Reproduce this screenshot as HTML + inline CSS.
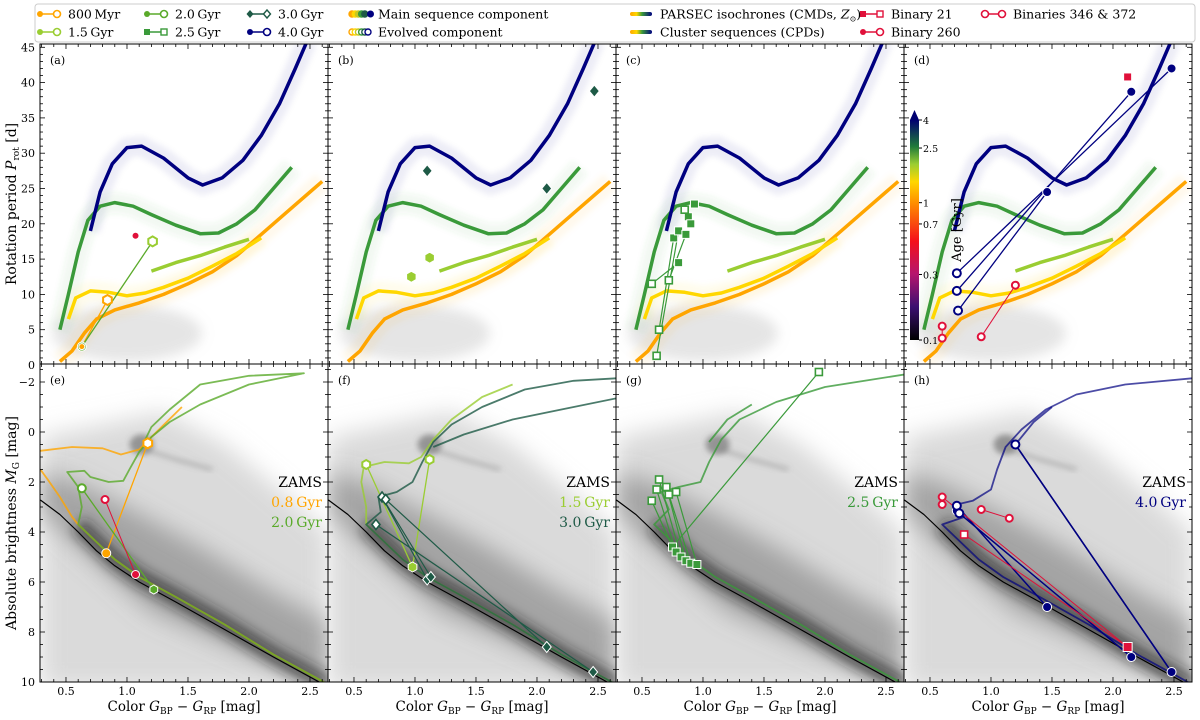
<!DOCTYPE html>
<html><head><meta charset="utf-8">
<style>
body{margin:0;background:#fff;}
svg text{font-family:"DejaVu Serif","Liberation Serif",serif;}
</style></head>
<body>
<svg id="fig" width="1200" height="715" viewBox="0 0 1200 715" xmlns="http://www.w3.org/2000/svg">
<defs>
<filter id="blur6" x="-20%" y="-20%" width="140%" height="140%"><feGaussianBlur stdDeviation="6"/></filter>
<filter id="blur3" x="-20%" y="-20%" width="140%" height="140%"><feGaussianBlur stdDeviation="3"/></filter>
<filter id="blur12" x="-30%" y="-30%" width="160%" height="160%"><feGaussianBlur stdDeviation="12"/></filter>
<linearGradient id="cbar" x1="0" y1="1" x2="0" y2="0">
<stop offset="0" stop-color="#000"/><stop offset="0.15" stop-color="#3b0f70"/><stop offset="0.3" stop-color="#b5156e"/>
<stop offset="0.45" stop-color="#f5101a"/><stop offset="0.62" stop-color="#ff8c00"/><stop offset="0.72" stop-color="#ffd700"/>
<stop offset="0.8" stop-color="#9acd32"/><stop offset="0.88" stop-color="#1f7a3a"/><stop offset="1" stop-color="#000070"/>
</linearGradient>
<linearGradient id="lgrad" x1="0" x2="1"><stop offset="0" stop-color="#ffa500"/><stop offset="0.3" stop-color="#ffd700"/><stop offset="0.55" stop-color="#3a9a3a"/><stop offset="1" stop-color="#000080"/></linearGradient>
<clipPath id="cp0"><rect x="40" y="44" width="288" height="320"/></clipPath>
<clipPath id="cp1"><rect x="328" y="44" width="288" height="320"/></clipPath>
<clipPath id="cp2"><rect x="616" y="44" width="288" height="320"/></clipPath>
<clipPath id="cp3"><rect x="904" y="44" width="288" height="320"/></clipPath>
<clipPath id="cb0"><rect x="40" y="364" width="288" height="318"/></clipPath>
<clipPath id="cb1"><rect x="328" y="364" width="288" height="318"/></clipPath>
<clipPath id="cb2"><rect x="616" y="364" width="288" height="318"/></clipPath>
<clipPath id="cb3"><rect x="904" y="364" width="288" height="318"/></clipPath>
</defs>
</svg>
<script>
// ---------- data ----------
const xTicks=[0.5,1.0,1.5,2.0,2.5];
const pTicks=[0,5,10,15,20,25,30,35,40,45];
const mTicks=[-2,0,2,4,6,8,10];
const seqOrange=[[0.45,0.5],[0.55,2],[0.65,4.5],[0.75,6.5],[0.9,7.8],[1.1,8.8],[1.3,10],[1.5,11.5],[1.7,13.2],[1.9,15.5],[2.1,18.5],[2.3,21.5],[2.5,24.5],[2.6,26]];
const seqYellow=[[0.52,6.5],[0.58,9.5],[0.7,10.5],[0.85,10.3],[1.0,9.8],[1.15,10.2],[1.3,11],[1.5,12.3],[1.7,14],[1.9,15.8],[2.1,18]];
const seqLime=[[1.2,13.3],[1.4,14.5],[1.6,15.5],[1.8,16.7],[2.0,17.8]];
const seqGreen=[[0.45,5],[0.52,10],[0.6,16],[0.68,20.5],[0.78,22.5],[0.9,23],[1.05,22.5],[1.2,21.3],[1.4,19.8],[1.6,18.6],[1.75,18.7],[1.9,20],[2.05,22],[2.2,25],[2.35,28]];
const seqNavy=[[0.7,19],[0.78,24.5],[0.88,28.5],[1.0,30.8],[1.12,31],[1.3,29.3],[1.5,26.5],[1.62,25.5],[1.78,26.5],[1.95,29],[2.1,32.5],[2.25,37],[2.38,42],[2.48,46]];
const msBase=[[2.65,10.1],[2.2,8.9],[1.8,7.7],[1.4,6.6],[1.1,5.8],[0.9,5.1],[0.75,4.4],[0.6,3.7]];
const zams=[[2.65,10.2],[2.2,9.0],[1.8,7.9],[1.4,6.8],[1.1,6.0],[0.9,5.35],[0.75,4.75],[0.6,4.0],[0.45,3.3],[0.29,2.72]];
const isoE1=[[0.55,3.4],[0.45,2.6],[0.35,1.9],[0.29,1.5]];
const isoE1b=[[0.29,0.75],[0.55,0.6],[0.8,0.65],[0.95,0.9],[1.1,0.7],[1.2,0.2],[1.45,-1.0]];
const isoE2=[[0.63,3.0],[0.6,2.2],[0.51,1.6],[0.65,1.55],[0.7,1.8],[0.85,2.0],[0.97,1.95],[1.02,1.5],[1.1,0.8],[1.2,0.2],[1.35,-0.4],[1.6,-1.1],[2.0,-1.9],[2.45,-2.35],[2.0,-2.25],[1.6,-1.9],[1.35,-0.9],[1.2,-0.2],[1.15,0.3]];
const isoF1=[[0.6,3.0],[0.56,2.0],[0.58,1.4],[0.75,1.2],[0.95,1.25],[1.05,1.0],[1.15,0.3],[1.3,-0.5],[1.55,-1.4],[1.8,-1.9]];
const isoF2=[[0.72,3.2],[0.7,2.6],[0.85,2.4],[0.98,2.0],[1.06,1.2],[1.15,0.4],[1.3,-0.3],[1.55,-1.0],[1.9,-1.7],[2.3,-2.05],[2.65,-2.15]];
const isoF2b=[[1.15,0.6],[1.4,0.1],[1.8,-0.5],[2.2,-0.9],[2.65,-1.35]];
const isoG=[[0.72,3.1],[0.66,2.4],[0.8,2.2],[0.98,2.0],[1.05,1.2],[1.15,0.3],[1.3,-0.5],[1.6,-1.2],[2.0,-1.8],[2.65,-2.3]];
const isoGb=[[1.05,0.4],[1.2,-0.5],[1.4,-1.1]];
const isoH=[[0.78,3.4],[0.72,2.9],[0.85,2.75],[1.0,2.3],[1.05,1.5],[1.12,0.6],[1.25,-0.1],[1.45,-0.9],[1.7,-1.5],[2.1,-1.9],[2.65,-2.15]];
const isoHb=[[1.2,0.5],[1.35,-0.4],[1.5,-1.0]];
const aMain=[[0.63,2.6]], aEvo=[[0.84,9.2],[1.21,17.5]], a260=[[1.07,18.3]];
const bLime=[[0.97,12.5],[1.12,15.2]], bTeal=[[1.1,27.5],[2.08,25],[2.47,38.8]];
const cFill=[[0.8,14.5],[0.76,18],[0.8,19],[0.86,18.5],[0.88,21],[0.93,22.8],[0.9,20]];
const cOpen=[[0.58,11.5],[0.64,5],[0.62,1.3],[0.72,12],[0.85,22]];
const dNavyF=[[2.48,42],[2.15,38.7],[1.46,24.5]], dNavyO=[[0.72,13],[0.72,10.5],[0.73,7.7]];
const dRedO=[[0.6,5.5],[0.6,3.8],[0.92,4],[1.2,11.3]], dRedSq=[[2.12,40.8]];
const eOr=[[0.83,4.85],[1.17,0.45]], eGr=[[1.22,6.3],[0.63,2.25]], eRed=[[1.07,5.7],[0.82,2.7]];
const fLimeF=[[0.98,5.4]], fLimeO=[[0.6,1.3],[1.12,1.1]];
const fTealF=[[1.1,5.9],[1.13,5.8],[2.08,8.6],[2.46,9.6]], fTealO=[[0.73,2.6],[0.76,2.7],[0.68,3.7]];
const gSqF=[[0.75,4.6],[0.78,4.8],[0.82,5.0],[0.86,5.15],[0.9,5.25],[0.95,5.3]];
const gSqO=[[0.58,2.75],[0.62,2.3],[0.64,1.9],[0.7,2.2],[0.72,2.5],[0.78,2.4],[1.95,-2.4]];
const hNavyF=[[1.46,7],[2.15,9],[2.48,9.6],[0.72,3.15]], hNavyO=[[0.72,2.95],[0.74,3.25],[1.2,0.5]];
const hRedO=[[0.6,2.6],[0.6,2.9],[0.92,3.1],[1.15,3.45]], hRedSq=[[0.78,4.1],[2.12,8.6]];
const cbTicks=[0.1,0.3,0.7,1,2.5,4];

// ---------- helpers ----------
const NS="http://www.w3.org/2000/svg";
const svg=document.getElementById('fig');
const L=[40,328,616,904], W=288;
const X=(v,c)=>L[c]+(v-0.287)*122;
const YP=p=>365-p*7.06;
const YM=m=>382+(m+2)*25;
function mk(tag,attrs,parent){const e=document.createElementNS(NS,tag);for(const k in attrs)e.setAttribute(k,attrs[k]);(parent||svg).appendChild(e);return e;}
function pathD(arr,c,yf){return arr.map((p,i)=>(i?'L':'M')+X(p[0],c).toFixed(1)+','+yf(p[1]).toFixed(1)).join(' ');}
function line(arr,c,yf,col,w,g,op){const e=mk('path',{d:pathD(arr,c,yf),fill:'none',stroke:col,'stroke-width':w,'stroke-linejoin':'round','stroke-opacity':op||1},g);return e;}
function marker(p,c,yf,shape,col,filled,g,r){
  r=r||4;const x=X(p[0],c),y=yf(p[1]);let e;
  const f=filled?col:'#fff';
  if(shape==='c')e=mk('circle',{cx:x,cy:y,r:r,fill:f,stroke:filled?'#fff':col,'stroke-width':filled?1:2},g);
  else if(shape==='s')e=mk('rect',{x:x-r,y:y-r,width:2*r,height:2*r,fill:f,stroke:filled?'#fff':col,'stroke-width':filled?1:1.6},g);
  else if(shape==='d')e=mk('polygon',{points:`${x},${y-r-1} ${x+r},${y} ${x},${y+r+1} ${x-r},${y}`,fill:f,stroke:filled?'#fff':col,'stroke-width':filled?1:1.6},g);
  else {let pts=[];for(let i=0;i<6;i++){const a=Math.PI/3*i+Math.PI/6;pts.push((x+r*Math.cos(a)).toFixed(1)+','+(y+r*Math.sin(a)).toFixed(1));}
    e=mk('polygon',{points:pts.join(' '),fill:f,stroke:filled?'#fff':col,'stroke-width':filled?1:2},g);}
  return e;
}
const OR='#ffa500',YE='#ffd700',LI='#9acd32',GR='#3a9a3a',TE='#1e5a46',NA='#000080',RD='#e0103a',G2='#5aaa2a';

// ---------- top panels ----------
for(let c=0;c<4;c++){
  const g=mk('g',{'clip-path':`url(#cp${c})`});
  
  
  mk('ellipse',{cx:X(1.0,c),cy:YP(4.5),rx:75,ry:28,fill:'#aaa','fill-opacity':0.3,filter:'url(#blur6)'},g);
  [[seqNavy,NA],[seqGreen,GR],[seqOrange,OR],[seqYellow,YE]].forEach(([s,col])=>line(s,c,YP,col,20,g,0.07).setAttribute('filter','url(#blur3)'));
  line(seqOrange,c,YP,OR,3.5,g);line(seqYellow,c,YP,YE,3.5,g);line(seqLime,c,YP,LI,3.5,g);
  line(seqGreen,c,YP,GR,3.5,g);line(seqNavy,c,YP,NA,3.5,g);
}
{const g=mk('g',{'clip-path':'url(#cp0)'});
 line([aMain[0],aEvo[0]],0,YP,OR,1.3,g);line([aMain[0],aEvo[1]],0,YP,G2,1.3,g);
 marker(aMain[0],0,YP,'c',G2,true,g,4.5);marker(aMain[0],0,YP,'c',OR,true,g,3);
 marker(aEvo[0],0,YP,'h',OR,false,g,5);marker(aEvo[1],0,YP,'h',LI,false,g,5);
 marker(a260[0],0,YP,'c',RD,true,g,3.5);}
{const g=mk('g',{'clip-path':'url(#cp1)'});
 bLime.forEach(p=>marker(p,1,YP,'h',LI,true,g,5.5));bTeal.forEach(p=>marker(p,1,YP,'d',TE,true,g,5));}
{const g=mk('g',{'clip-path':'url(#cp2)'});
 cOpen.forEach((p,i)=>line([p,cFill[i%cFill.length]],2,YP,GR,1.2,g));
 cFill.forEach(p=>marker(p,2,YP,'s',GR,true,g,4));cOpen.forEach(p=>marker(p,2,YP,'s',GR,false,g,3.5));}
{const g=mk('g',{'clip-path':'url(#cp3)'});
 dNavyO.forEach((p,i)=>line([p,dNavyF[i]],3,YP,NA,1.3,g));
 line([dRedO[0],dRedO[1]],3,YP,RD,1,g);line([dRedO[2],dRedO[3]],3,YP,RD,1,g);
 dNavyF.forEach(p=>marker(p,3,YP,'c',NA,true,g,4.5));dNavyO.forEach(p=>marker(p,3,YP,'c',NA,false,g,4));
 dRedO.forEach(p=>marker(p,3,YP,'c',RD,false,g,3.5));dRedSq.forEach(p=>marker(p,3,YP,'s',RD,true,g,4));}

// ---------- bottom panels ----------
const isoSets=[[[msBase.concat(isoE1),OR],[isoE1b,OR],[msBase.concat(isoE2),G2]],
 [[msBase.concat(isoF1),LI],[msBase.concat(isoF2),TE],[isoF2b,TE]],
 [[msBase.concat(isoG),GR],[isoGb,GR]],
 [[msBase.concat(isoH),NA],[isoHb,NA]]];
const labs=[['0.8\u2009Gyr',OR,'2.0\u2009Gyr',G2],['1.5\u2009Gyr',LI,'3.0\u2009Gyr',TE],['2.5\u2009Gyr',GR],['4.0\u2009Gyr',NA]];
for(let c=0;c<4;c++){
  const g=mk('g',{'clip-path':`url(#cb${c})`});
  
  
  const cloud=[[0.29,0.2],[0.8,-0.3],[1.3,-0.8],[1.8,0.5],[2.3,2.5],[2.65,4.0],[2.65,10.3],[0.29,10.3]];
  mk('path',{d:pathD(cloud,c,YM)+'Z',fill:'#bbb','fill-opacity':0.55,filter:'url(#blur12)'},g);
  mk('path',{d:pathD([[0.29,1.6],[0.6,2.0],[1.0,3.0],[1.6,4.6],[2.2,6.4],[2.65,7.6],[2.65,10.3],[1.2,7.2],[0.6,4.6],[0.29,3.2]],c,YM)+'Z',fill:'#777','fill-opacity':0.55,filter:'url(#blur12)'},g);
  line(msBase,c,YM,'#222',18,g,0.6).setAttribute('filter','url(#blur6)');
  mk('ellipse',{cx:X(1.12,c),cy:YM(0.5),rx:12,ry:10,fill:'#666','fill-opacity':0.6,filter:'url(#blur3)'},g);
  line([[1.15,0.7],[1.4,1.1],[1.7,1.5]],c,YM,'#777',3,g,0.5).setAttribute('filter','url(#blur3)');
  line(zams,c,YM,'#000',1.2,g);
  isoSets[c].forEach(([s,col])=>line(s,c,YM,col,1.8,g,c===3?0.7:0.8));
  const tx=L[c]+W-6;
  const t=mk('text',{x:tx,y:YM(2.2),'text-anchor':'end','font-size':14,fill:'#000'});t.textContent='ZAMS';
  
  const a=labs[c];
  const t1=mk('text',{x:tx,y:YM(3.0),'text-anchor':'end','font-size':14,fill:a[1]});t1.textContent=a[0];
  
  if(a[2]){const t2=mk('text',{x:tx,y:YM(3.8),'text-anchor':'end','font-size':14,fill:a[3]});t2.textContent=a[2];
   }
}
{const g=mk('g',{'clip-path':'url(#cb0)'});
 line(eOr,0,YM,OR,1.3,g);line(eGr,0,YM,G2,1.3,g);line(eRed,0,YM,RD,1,g);
 marker(eOr[0],0,YM,'c',OR,true,g,4.5);marker(eOr[1],0,YM,'h',OR,false,g,5);
 marker(eGr[0],0,YM,'h',G2,true,g,4.5);marker(eGr[1],0,YM,'c',G2,false,g,4);
 marker(eRed[0],0,YM,'c',RD,true,g,4);marker(eRed[1],0,YM,'c',RD,false,g,3.5);}
{const g=mk('g',{'clip-path':'url(#cb1)'});
 fLimeO.forEach(p=>line([p,fLimeF[0]],1,YM,LI,1.3,g));
 fTealO.forEach((p,i)=>line([p,fTealF[i+1]],1,YM,TE,1.2,g));line([fTealO[0],fTealF[0]],1,YM,TE,1.2,g);
 fLimeF.forEach(p=>marker(p,1,YM,'h',LI,true,g,5));fLimeO.forEach(p=>marker(p,1,YM,'h',LI,false,g,4.5));
 fTealF.forEach(p=>marker(p,1,YM,'d',TE,true,g,4.5));fTealO.forEach(p=>marker(p,1,YM,'d',TE,false,g,4));}
{const g=mk('g',{'clip-path':'url(#cb2)'});
 gSqO.forEach((p,i)=>line([p,gSqF[i%gSqF.length]],2,YM,GR,1.2,g));
 gSqF.forEach(p=>marker(p,2,YM,'s',GR,true,g,4));gSqO.forEach(p=>marker(p,2,YM,'s',GR,false,g,3.5));}
{const g=mk('g',{'clip-path':'url(#cb3)'});
 hNavyO.forEach((p,i)=>line([p,hNavyF[i]],3,YM,NA,1.5,g));line([hNavyO[2],hNavyF[2]],3,YM,NA,1.5,g);
 line([hRedO[0],hRedSq[1]],3,YM,RD,1,g);line([hRedO[2],hRedO[3]],3,YM,RD,1,g);line([hRedSq[0],hRedSq[1]],3,YM,RD,1,g);
 hNavyF.forEach(p=>marker(p,3,YM,'c',NA,true,g,4.5));hNavyO.forEach(p=>marker(p,3,YM,'c',NA,false,g,4));
 hRedO.forEach(p=>marker(p,3,YM,'c',RD,false,g,3.5));marker(hRedSq[0],3,YM,'s',RD,false,g,3.5);marker(hRedSq[1],3,YM,'s',RD,true,g,4.5);}

// ---------- frames, ticks, labels ----------
const axg=mk('g',{});


for(let r=0;r<2;r++)for(let c=0;c<4;c++){
  const y0=r?364:44,h=r?318:320;
  mk('rect',{x:L[c],y:y0,width:W,height:h,fill:'none',stroke:'#000','stroke-width':1},axg);
  for(let v=0.3;v<2.66;v+=0.1){const x=X(v,c);const major=Math.abs(v*2-Math.round(v*2))<1e-6;const len=major?5:3;
    mk('line',{x1:x,x2:x,y1:y0,y2:y0+len,stroke:'#000','stroke-width':0.8},axg);
    mk('line',{x1:x,x2:x,y1:y0+h,y2:y0+h-len,stroke:'#000','stroke-width':0.8},axg);}
  const t=mk('text',{x:L[c]+10,y:y0+20,'font-size':11,fill:'#000'});t.textContent='('+'abcdefgh'[r*4+c]+')';
  
  if(r===0){for(let p=0;p<=45;p+=1){const y=YP(p);if(y<44||y>364)continue;const len=p%5===0?5:3;
      mk('line',{x1:L[c],x2:L[c]+len,y1:y,y2:y,stroke:'#000','stroke-width':0.8},axg);
      mk('line',{x1:L[c]+W,x2:L[c]+W-len,y1:y,y2:y,stroke:'#000','stroke-width':0.8},axg);}}
  else{for(let m=-2.5;m<=10;m+=0.5){const y=YM(m);if(y<364||y>682)continue;const len=m%2===0?5:3;
      mk('line',{x1:L[c],x2:L[c]+len,y1:y,y2:y,stroke:'#000','stroke-width':0.8},axg);
      mk('line',{x1:L[c]+W,x2:L[c]+W-len,y1:y,y2:y,stroke:'#000','stroke-width':0.8},axg);}}
}
pTicks.forEach(p=>{const t=mk('text',{x:35,y:YP(p)+4,'text-anchor':'end','font-size':11},axg);t.textContent=p;
  });
mTicks.forEach(m=>{const t=mk('text',{x:35,y:YM(m)+4,'text-anchor':'end','font-size':11},axg);t.textContent=m<0?'\u2212'+(-m):m;
  });
for(let c=0;c<4;c++){xTicks.forEach(v=>{const t=mk('text',{x:X(v,c),y:695,'text-anchor':'middle','font-size':11},axg);t.textContent=v.toFixed(1);
  });
  const xl=mk('text',{x:L[c]+W/2,y:711,'text-anchor':'middle','font-size':13.5},axg);
  xl.innerHTML='Color <tspan font-style="italic">G</tspan><tspan font-size="9" dy="3">BP</tspan><tspan dy="-3"> \u2212 </tspan><tspan font-style="italic">G</tspan><tspan font-size="9" dy="3">RP</tspan><tspan dy="-3"> [mag]</tspan>';
  }
{const t=mk('text',{transform:'translate(16,204) rotate(-90)','text-anchor':'middle','font-size':14},axg);
 t.innerHTML='Rotation period <tspan font-style="italic">P</tspan><tspan font-size="9" dy="3">rot</tspan><tspan dy="-3"> [d]</tspan>';
 
 const t2=mk('text',{transform:'translate(16,523) rotate(-90)','text-anchor':'middle','font-size':14},axg);
 t2.innerHTML='Absolute brightness <tspan font-style="italic">M</tspan><tspan font-size="9" dy="3">G</tspan><tspan dy="-3"> [mag]</tspan>';
 }

// ---------- colorbar ----------
{const g=mk('g',{});
 mk('rect',{x:910,y:120,width:9,height:220,fill:'url(#cbar)'},g);
 mk('polygon',{points:'910,120 919,120 914.5,110',fill:'#000070'},g);
 const CY=a=>340-(Math.log10(a)+1)/1.602*220;
 cbTicks.forEach(a=>{mk('line',{x1:919,x2:922,y1:CY(a),y2:CY(a),stroke:'#000'},g);
  const t=mk('text',{x:923,y:CY(a)+4,'font-size':9.5},g);t.textContent=a;
  });
 const t=mk('text',{transform:'translate(961,230) rotate(-90)','text-anchor':'middle','font-size':13},g);t.textContent='Age [Gyr]';
 }

// ---------- legend ----------
{const g=mk('g',{});
 mk('rect',{x:35,y:4,width:1160,height:38,rx:3,fill:'#fff',stroke:'#ccc'},g);
 const entries=[[40,14,OR,'c','800\u2009Myr'],[40,32,LI,'h','1.5\u2009Gyr'],[147,14,G2,'c','2.0\u2009Gyr'],[147,32,GR,'s','2.5\u2009Gyr'],
  [250,14,TE,'d','3.0\u2009Gyr'],[250,32,NA,'c','4.0\u2009Gyr'],[863,14,RD,'s','Binary 21'],[863,32,RD,'c','Binary 260'],[985,14,RD,'co','Binaries 346 & 372']];
 entries.forEach(([x,y,col,sh,txt])=>{const e=mk('g',{},g);
  
  const X0=x,X1=x+17;mk('line',{x1:X0,x2:X1,y1:y,y2:y,stroke:col,'stroke-width':1.5},e);
  const so=sh==='co'?'c':sh;
  if(sh!=='co'){
    if(so==='s')mk('rect',{x:X0-3,y:y-3,width:6,height:6,fill:col},e);else if(so==='d')mk('polygon',{points:`${X0},${y-4} ${X0+3.5},${y} ${X0},${y+4} ${X0-3.5},${y}`,fill:col},e);else mk('circle',{cx:X0,cy:y,r:3,fill:col},e);}
  else mk('circle',{cx:X0,cy:y,r:3.5,fill:'#fff',stroke:col,'stroke-width':1.6},e);
  if(so==='s')mk('rect',{x:X1-3,y:y-3,width:6,height:6,fill:'#fff',stroke:col,'stroke-width':1.4},e);
  else if(so==='d')mk('polygon',{points:`${X1},${y-4} ${X1+3.5},${y} ${X1},${y+4} ${X1-3.5},${y}`,fill:'#fff',stroke:col,'stroke-width':1.4},e);
  else mk('circle',{cx:X1,cy:y,r:3.5,fill:'#fff',stroke:col,'stroke-width':1.6},e);
  const t=mk('text',{x:x+28,y:y+4.5,'font-size':12.5},e);t.textContent=txt;});
 const cols=[OR,YE,'#c8c820',GR,TE,NA];
 [[14,true,'Main sequence component'],[32,false,'Evolved component']].forEach(([y,f,txt])=>{const e=mk('g',{},g);
  
  cols.forEach((col,i)=>{if(i===5&&f)mk('circle',{cx:353+i*3.5,cy:y,r:3.5,fill:col},e);else mk('circle',{cx:352+i*3.2,cy:y,r:3,fill:f?col:'#fff',stroke:col,'stroke-width':1.4},e);});
  const t=mk('text',{x:378,y:y+4.5,'font-size':12.5},e);t.textContent=txt;});
 [[14,'PARSEC isochrones (CMDs, '],[32,'Cluster sequences (CPDs)']].forEach(([y,txt],i)=>{const e=mk('g',{},g);
  
  mk('rect',{x:630,y:y-2,width:22,height:4,rx:2,fill:'url(#lgrad)'},e);
  const t=mk('text',{x:660,y:y+4.5,'font-size':12.5},e);
  if(i===0)t.innerHTML=txt+'<tspan font-style="italic">Z</tspan><tspan font-size="8" dy="3">\u2299</tspan><tspan dy="-3">)</tspan>';else t.textContent=txt;});
}
</script>
</body></html>
